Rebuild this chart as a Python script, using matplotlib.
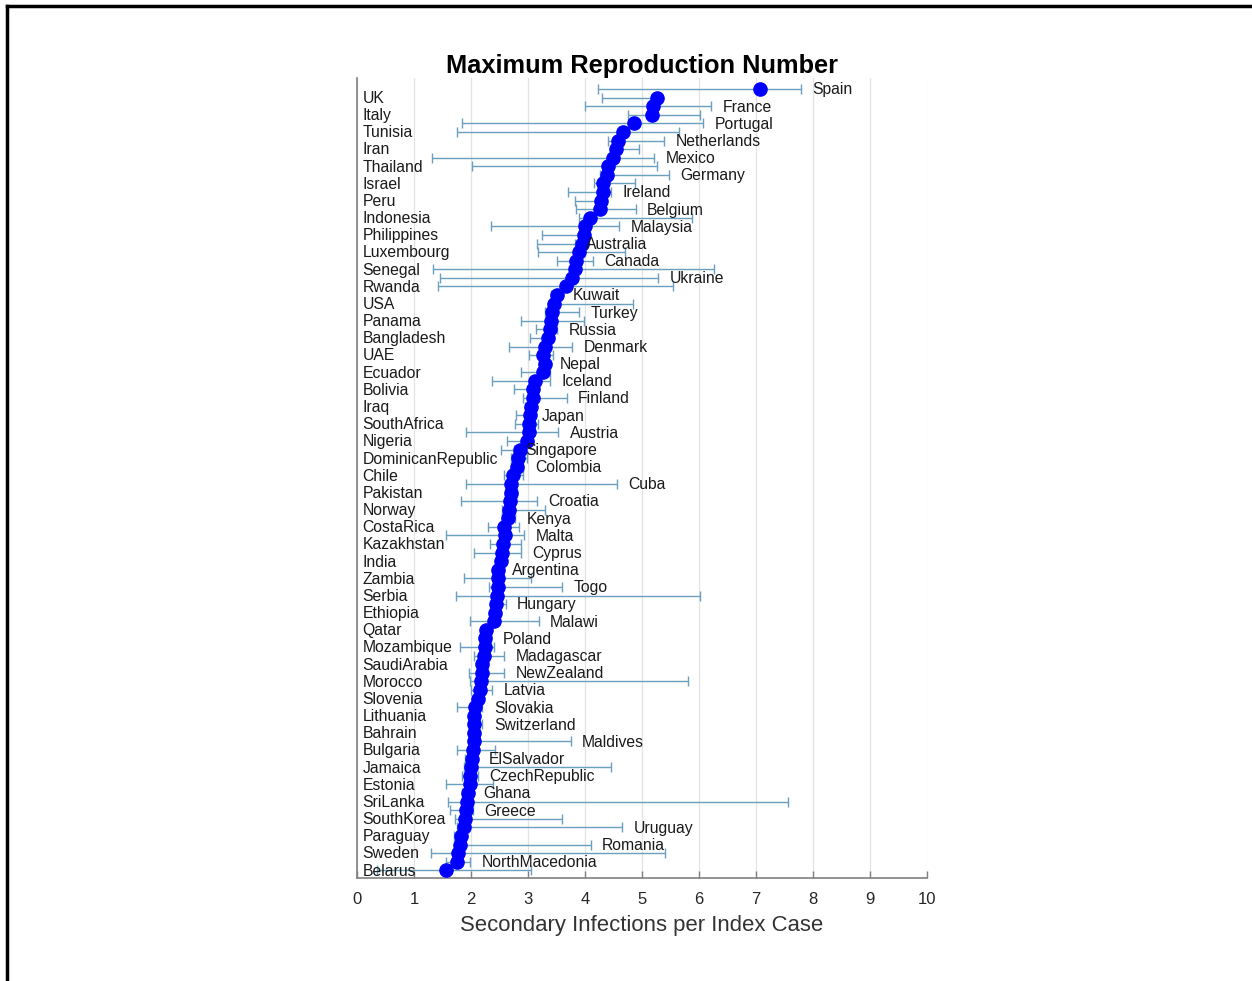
import numpy as np
import matplotlib.pyplot as plt
from matplotlib.lines import Line2D

plt.rcParams['font.family'] = ['Liberation Sans', 'DejaVu Sans']

# --- countries, sorted from highest to lowest estimate ---
countries = [
    "Spain", "UK", "France", "Italy", "Portugal", "Tunisia", "Netherlands", "Iran",
    "Mexico", "Thailand", "Germany", "Israel", "Ireland", "Peru", "Belgium", "Indonesia",
    "Malaysia", "Philippines", "Australia", "Luxembourg", "Canada", "Senegal", "Ukraine", "Rwanda",
    "Kuwait", "USA", "Turkey", "Panama", "Russia", "Bangladesh", "Denmark", "UAE",
    "Nepal", "Ecuador", "Iceland", "Bolivia", "Finland", "Iraq", "Japan", "SouthAfrica",
    "Austria", "Nigeria", "Singapore", "DominicanRepublic", "Colombia", "Chile", "Cuba", "Pakistan",
    "Croatia", "Norway", "Kenya", "CostaRica", "Malta", "Kazakhstan", "Cyprus", "India",
    "Argentina", "Zambia", "Togo", "Serbia", "Hungary", "Ethiopia", "Malawi", "Qatar",
    "Poland", "Mozambique", "Madagascar", "SaudiArabia", "NewZealand", "Morocco", "Latvia", "Slovenia",
    "Slovakia", "Lithuania", "Switzerland", "Bahrain", "Maldives", "Bulgaria", "ElSalvador", "Jamaica",
    "CzechRepublic", "Estonia", "Ghana", "SriLanka", "Greece", "SouthKorea", "Uruguay", "Paraguay",
    "Romania", "Sweden", "NorthMacedonia", "Belarus",
]

r_max = [
    7.07, 5.26, 5.19, 5.17, 4.86, 4.66, 4.58, 4.54,
    4.49, 4.41, 4.38, 4.32, 4.31, 4.28, 4.26, 4.09,
    4.00, 3.99, 3.94, 3.89, 3.85, 3.82, 3.77, 3.66,
    3.50, 3.46, 3.42, 3.40, 3.39, 3.35, 3.30, 3.27,
    3.29, 3.27, 3.12, 3.09, 3.08, 3.06, 3.04, 3.02,
    3.01, 2.99, 2.86, 2.82, 2.80, 2.74, 2.71, 2.70,
    2.68, 2.67, 2.65, 2.58, 2.60, 2.57, 2.54, 2.53,
    2.48, 2.47, 2.47, 2.45, 2.44, 2.42, 2.41, 2.27,
    2.25, 2.25, 2.22, 2.20, 2.19, 2.18, 2.16, 2.13,
    2.07, 2.06, 2.06, 2.05, 2.05, 2.04, 2.01, 2.00,
    1.98, 1.98, 1.95, 1.93, 1.92, 1.89, 1.87, 1.82,
    1.81, 1.77, 1.75, 1.57,
]

r_low = [
    4.23, 4.29, 4.00, 4.76, 1.85, 1.75, 4.41, 4.46,
    1.32, 2.02, 4.26, 4.16, 3.71, 3.82, 3.84, 3.89,
    2.35, 3.24, 3.15, 3.18, 3.50, 1.34, 1.46, 1.42,
    3.40, 3.40, 3.29, 2.87, 3.14, 3.04, 2.67, 3.02,
    3.20, 2.88, 2.36, 2.76, 2.91, 2.95, 2.79, 2.78,
    1.91, 2.64, 2.53, 2.71, 2.70, 2.58, 1.91, 2.60,
    1.82, 2.55, 2.55, 2.29, 1.57, 2.33, 2.06, 2.45,
    2.40, 1.88, 2.32, 1.74, 2.35, 2.35, 1.98, 2.20,
    2.15, 1.81, 2.05, 2.10, 1.97, 1.98, 2.00, 2.05,
    1.75, 2.00, 2.00, 1.98, 2.00, 1.75, 1.90, 1.87,
    1.85, 1.56, 1.85, 1.60, 1.64, 1.72, 1.75, 1.70,
    1.75, 1.30, 1.57, 0.35,
]

r_high = [
    7.79, 5.32, 6.21, 6.02, 6.07, 5.65, 5.39, 4.95,
    5.21, 5.27, 5.47, 4.88, 4.46, 4.35, 4.89, 5.87,
    4.60, 4.05, 3.82, 4.70, 4.14, 6.26, 5.28, 5.55,
    3.58, 4.85, 3.89, 3.99, 3.51, 3.40, 3.77, 3.43,
    3.35, 3.39, 3.39, 3.15, 3.68, 3.12, 3.05, 3.18,
    3.53, 3.00, 2.75, 2.98, 2.92, 2.91, 4.56, 2.80,
    3.16, 3.30, 2.78, 2.85, 2.93, 2.88, 2.87, 2.60,
    2.52, 3.06, 3.60, 6.02, 2.61, 2.50, 3.19, 2.35,
    2.35, 2.41, 2.58, 2.30, 2.58, 5.80, 2.37, 2.20,
    2.20, 2.12, 2.20, 2.12, 3.75, 2.42, 2.11, 4.46,
    2.12, 2.39, 2.01, 7.57, 2.04, 3.59, 4.65, 1.92,
    4.10, 5.40, 1.98, 3.06,
]

rows = np.arange(1, len(countries) + 1)
low = np.array(r_low)
high = np.array(r_high)
est = np.array(r_max)

fig = plt.figure(figsize=(12.52, 9.81), dpi=100)
ax = fig.add_axes([357 / 1252, 103 / 981, 570 / 1252, 800 / 981])

bar_col = "#6a9fc0"
ax.hlines(rows, low, high, color=bar_col, lw=1.0, zorder=2)
ax.plot(low, rows, ls="none", marker="|", ms=7, mew=1.0, color=bar_col, zorder=2)
ax.plot(high, rows, ls="none", marker="|", ms=7, mew=1.0, color=bar_col, zorder=2)
ax.plot(est, rows, ls="none", marker="o", ms=9.5, color="#0000ff", mec="#0000ff", zorder=3)

# names alternate: odd rows beside the upper bound, even rows in a column on the left
for i, name in enumerate(countries):
    if i % 2 == 0:
        ax.text(high[i] + 0.2, rows[i] + 0.1, name, ha="left", va="center", fontsize=11.3,
                color="#1a1a1a", zorder=4)
    else:
        ax.text(0.1, rows[i] + 0.1, name, ha="left", va="center", fontsize=11.3,
                color="#1a1a1a", zorder=4)

ax.set_xlim(0, 10)
ax.set_ylim(92.9, -0.28)
ax.set_xticks(range(0, 11))
ax.set_yticks([])
ax.grid(axis="x", color="#e3e3e3", lw=0.9, zorder=0)
ax.set_axisbelow(True)
for s in ["top", "right"]:
    ax.spines[s].set_visible(False)
for s in ["left", "bottom"]:
    ax.spines[s].set_color("#808080")
    ax.spines[s].set_linewidth(1.2)
ax.tick_params(axis="x", direction="in", length=5, width=1, color="#808080",
               labelsize=12, labelcolor="#262626", pad=10)

ax.set_xlabel("Secondary Infections per Index Case", fontsize=15.9, color="#333333", labelpad=6)
ax.set_title("Maximum Reproduction Number", fontsize=18.3, fontweight="bold", pad=2)

# frame lines along the top and left edges
fig.add_artist(Line2D([7 / 1252, 1], [1 - 5.5 / 981] * 2, color="black", lw=2.5,
                      transform=fig.transFigure))
fig.add_artist(Line2D([7 / 1252] * 2, [0, 1 - 5.5 / 981], color="black", lw=2.5,
                      transform=fig.transFigure))

fig.savefig("out.png", dpi=100)
